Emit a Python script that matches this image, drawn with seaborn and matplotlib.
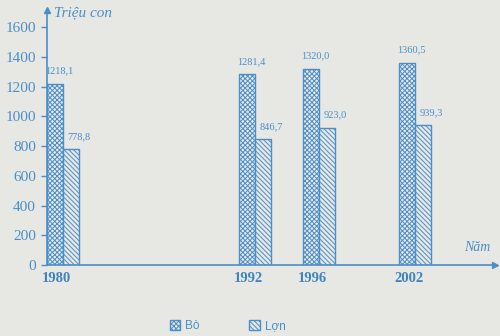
import matplotlib
matplotlib.use("Agg")
import matplotlib.pyplot as plt
import seaborn as sns
import pandas as pd
from matplotlib.patches import Patch

years = [1980, 1992, 1996, 2002]
bo = [1218.1, 1281.4, 1320.0, 1360.5]
lon = [778.8, 846.7, 923.0, 939.3]
series_names = ["Bò", "Lợn"]
yticks = [0, 200, 400, 600, 800, 1000, 1200, 1400, 1600]

BLUE = "#4a8fc8"
PAPER = "#e7e7e4"

sns.set_theme(style="white")
plt.rcParams["font.family"] = ["Liberation Serif", "DejaVu Serif"]
plt.rcParams["hatch.color"] = BLUE
plt.rcParams["hatch.linewidth"] = 0.7

df = pd.DataFrame({
    "Năm": years * 2,
    "value": bo + lon,
    "loai": [series_names[0]] * 4 + [series_names[1]] * 4,
})

fig = plt.figure(figsize=(5.0, 3.36), dpi=100, facecolor=PAPER)
ax = fig.add_axes([0.094, 0.211, 0.896, 0.759])
ax.set_facecolor(PAPER)

sns.barplot(data=df, x="Năm", y="value", hue="loai", native_scale=True,
            dodge=True, width=0.5, palette=[PAPER, PAPER], edgecolor=BLUE,
            linewidth=1.0, legend=False, ax=ax, hue_order=series_names)

hatches = {series_names[0]: "xxxxxxx", series_names[1]: "\\\\\\\\\\\\\\"}
bars = [p for p in ax.patches]
for i, p in enumerate(bars):
    name = series_names[0] if i < len(years) else series_names[1]
    p.set_hatch(hatches[name])
    p.set_edgecolor(BLUE)
    val = p.get_height()
    off = 3 if name == series_names[0] else 6
    ax.annotate(f"{val:.1f}".replace(".", ","),
                (p.get_x() + p.get_width() / 2, val),
                xytext=(off, 6), textcoords="offset points",
                ha="center", va="bottom", fontsize=7.5, color=BLUE)

ax.set_xlim(1979, 2007)
ax.set_ylim(0, 1714)
ax.set_yticks(yticks)
ax.set_yticklabels([str(v) for v in yticks], fontsize=11, color=BLUE)
ax.set_xticks([y - 0.4 for y in years])
ax.set_xticklabels([str(y) for y in years], fontsize=10.5, color="#3f84c0",
                   fontweight="bold")
ax.tick_params(axis="y", length=4, width=1, color=BLUE, pad=4, direction="out", left=True)
ax.tick_params(axis="x", length=0, pad=5, bottom=False)
ax.set_xlabel("")
ax.set_ylabel("")

for s in ["top", "right"]:
    ax.spines[s].set_visible(False)
for s in ["left", "bottom"]:
    ax.spines[s].set_color(BLUE)
    ax.spines[s].set_linewidth(1.2)

ax.plot(0, 1, marker="^", color=BLUE, markersize=5, transform=ax.transAxes, clip_on=False)
ax.plot(1, 0, marker=">", color=BLUE, markersize=5, transform=ax.transAxes, clip_on=False)

ax.text(0.015, 0.99, "Triệu con", transform=ax.transAxes, fontsize=11,
        style="italic", color=BLUE, ha="left", va="center")
ax.text(0.99, 0.045, "Năm", transform=ax.transAxes, fontsize=10,
        style="italic", color=BLUE, ha="right", va="bottom")

handles = [Patch(facecolor=PAPER, edgecolor=BLUE, hatch=hatches[n], label=n)
           for n in series_names]
leg = fig.legend(handles=handles, loc="center", bbox_to_anchor=(0.455, 0.03),
                 ncol=2, frameon=False, handlelength=0.9, handleheight=0.9,
                 columnspacing=4.2, handletextpad=0.4,
                 prop={"family": "Liberation Sans", "size": 8.5})
for t in leg.get_texts():
    t.set_color(BLUE)

fig.savefig("out.png", dpi=100, facecolor=PAPER)
